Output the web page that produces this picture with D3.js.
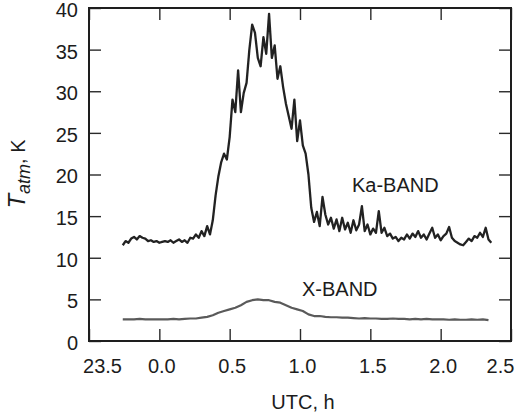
<!DOCTYPE html>
<html>
<head>
<meta charset="utf-8">
<script src="https://cdn.jsdelivr.net/npm/d3@7"></script>
<style>
  html, body { margin: 0; padding: 0; background: #fff; }
  svg { display: block; }
  text { font-family: "Liberation Sans", Arial, Helvetica, sans-serif; fill: #1c1c1c; }
</style>
</head>
<body>
<svg id="chart" width="523" height="418"></svg>
<script>
// Time axis: hours relative to 00:00 UTC (negative values are before midnight)
const xTickValues = [-0.5, 0.0, 0.5, 1.0, 1.5, 2.0, 2.5];
const xTickLabels = ["23.5", "0.0", "0.5", "1.0", "1.5", "2.0", "2.5"];
const yTickValues = [0, 5, 10, 15, 20, 25, 30, 35, 40];

// Ka-band brightness temperature, K — sampled every 0.02 h starting at -0.26 h
const kaStart = -0.26, kaStep = 0.02;
const kaTemp = [
  11.5, 12.0, 11.8, 12.3, 12.5, 12.2, 12.6, 12.4, 12.3, 12.0,
  12.1, 11.9, 12.0, 11.8, 11.9, 12.0, 11.9, 12.1, 11.8, 12.0,
  12.2, 11.9, 12.1, 11.8, 12.4, 12.3, 12.8, 12.4, 13.2, 12.6,
  13.8, 12.8, 14.5, 17.5, 19.8, 21.5, 22.5, 21.8, 24.5, 29.0,
  27.5, 32.5, 27.5, 29.8, 31.0, 35.0, 38.0, 37.0, 34.0, 33.0,
  36.5, 34.5, 39.3, 34.0, 35.5, 31.5, 33.0, 30.5, 28.5, 27.0,
  25.5, 29.0, 24.0, 26.5, 23.5, 22.5, 20.0, 16.0, 14.3, 15.5,
  13.8, 17.3, 15.2, 14.0, 14.8, 13.5, 14.6, 13.2, 14.8, 13.4,
  14.2, 13.0, 14.5, 13.3, 14.0, 16.2, 13.2, 14.0, 12.8, 13.5,
  13.0, 15.6, 13.0, 13.6, 12.6, 12.9, 12.3, 12.5, 12.0, 12.4,
  12.2, 12.8, 12.3, 12.9, 12.5, 13.2, 12.4, 12.8, 12.2, 12.9,
  13.6, 12.4, 12.8, 12.1, 12.6, 12.9, 13.7, 12.4, 12.0, 11.8,
  11.6, 11.5, 11.9, 12.3, 12.0, 12.6, 12.4, 13.0, 12.5, 13.6,
  12.2, 11.8
];

// X-band brightness temperature, K — sampled every 0.04 h starting at -0.26 h
const xStart = -0.26, xStep = 0.04;
const xTemp = [
  2.6, 2.6, 2.6, 2.65, 2.6, 2.6, 2.6, 2.6, 2.6, 2.65,
  2.6, 2.65, 2.7, 2.7, 2.8, 2.9, 3.1, 3.4, 3.6, 3.8,
  4.0, 4.3, 4.7, 4.9, 5.0, 4.9, 4.9, 4.7, 4.6, 4.3,
  4.0, 3.8, 3.6, 3.2, 3.0, 3.0, 2.9, 2.85, 2.85, 2.8,
  2.8, 2.75, 2.7, 2.75, 2.7, 2.7, 2.65, 2.65, 2.7, 2.65,
  2.65, 2.6, 2.65, 2.6, 2.65, 2.6, 2.6, 2.6, 2.55, 2.6,
  2.55, 2.55, 2.6, 2.55, 2.6, 2.5
];

const svg = d3.select("#chart");
const plotLeft = 89, plotRight = 511, plotTop = 8, plotBottom = 341;

const x = d3.scaleLinear().domain([-0.5, 2.5]).range([plotLeft, plotRight]);
const y = d3.scaleLinear().domain([0, 40]).range([plotBottom, plotTop]);

const kaData = kaTemp.map((v, i) => ({ t: kaStart + i * kaStep, v }));
const xData = xTemp.map((v, i) => ({ t: xStart + i * xStep, v }));

// soft rendering of the noisy traces
const defs = svg.append("defs");
defs.append("filter").attr("id", "soft")
  .attr("x", "-5%").attr("y", "-5%").attr("width", "110%").attr("height", "110%")
  .append("feGaussianBlur").attr("stdDeviation", 0.5);

const line = d3.line().x(d => x(d.t)).y(d => y(d.v));

svg.append("path").datum(xData)
  .attr("d", line)
  .attr("fill", "none")
  .attr("stroke", "#5a5a5a")
  .attr("stroke-width", 2.2)
  .attr("stroke-linejoin", "round")
  .attr("filter", "url(#soft)");

svg.append("path").datum(kaData)
  .attr("d", line)
  .attr("fill", "none")
  .attr("stroke", "#222")
  .attr("stroke-width", 2.3)
  .attr("stroke-linejoin", "round")
  .attr("filter", "url(#soft)");

// axes with inward ticks on all four sides
const fmtX = d => xTickLabels[xTickValues.indexOf(d)];
const tickLen = 12;

function styleAxis(g) {
  g.select(".domain").remove();
  g.selectAll(".tick line").attr("stroke", "#2a2a2a").attr("stroke-width", 1.4);
  g.selectAll(".tick text").attr("font-size", 20).attr("fill", "#1c1c1c")
    .attr("font-family", '"Liberation Sans", Arial, Helvetica, sans-serif');
}

svg.append("g").attr("transform", `translate(${plotLeft},0)`)
  .call(d3.axisLeft(y).tickValues(yTickValues).tickSize(-tickLen).tickPadding(11))
  .call(styleAxis)
  .call(g => g.selectAll(".tick text").attr("dy", "0.42em"));

svg.append("g").attr("transform", `translate(${plotRight},0)`)
  .call(d3.axisRight(y).tickValues(yTickValues).tickSize(-tickLen).tickFormat(""))
  .call(styleAxis);

// end labels of the time axis are pulled inside the frame edges
const xLabelShift = d => d === xTickValues[0] ? 13 : d === xTickValues[xTickValues.length - 1] ? -11 : 2;
svg.append("g").attr("transform", `translate(0,${plotBottom})`)
  .call(d3.axisBottom(x).tickValues(xTickValues).tickSize(-tickLen).tickPadding(18).tickFormat(fmtX))
  .call(styleAxis)
  .call(g => g.selectAll(".tick text").attr("x", xLabelShift));

svg.append("g").attr("transform", `translate(0,${plotTop})`)
  .call(d3.axisTop(x).tickValues(xTickValues).tickSize(-tickLen).tickFormat(""))
  .call(styleAxis);

// plot frame
svg.append("rect")
  .attr("x", plotLeft).attr("y", plotTop)
  .attr("width", plotRight - plotLeft).attr("height", plotBottom - plotTop)
  .attr("fill", "none").attr("stroke", "#1e1e1e").attr("stroke-width", 2);

// axis titles
svg.append("text")
  .attr("x", (plotLeft + plotRight) / 2 + 3).attr("y", 409)
  .attr("text-anchor", "middle").attr("font-size", 20)
  .text("UTC, h");

const yTitle = svg.append("text")
  .attr("transform", "translate(25,174) rotate(-90)")
  .attr("text-anchor", "middle").attr("font-size", 20);
yTitle.append("tspan").attr("font-style", "italic").attr("font-size", 24).text("T");
yTitle.append("tspan").attr("font-style", "italic").attr("font-size", 18).attr("dy", 5).text("atm");
yTitle.append("tspan").attr("dy", -5).text(", K");

// series labels
svg.append("text").attr("x", 352).attr("y", 192).attr("font-size", 20).text("Ka-BAND");
svg.append("text").attr("x", 302).attr("y", 296).attr("font-size", 20).text("X-BAND");
</script>
</body>
</html>
